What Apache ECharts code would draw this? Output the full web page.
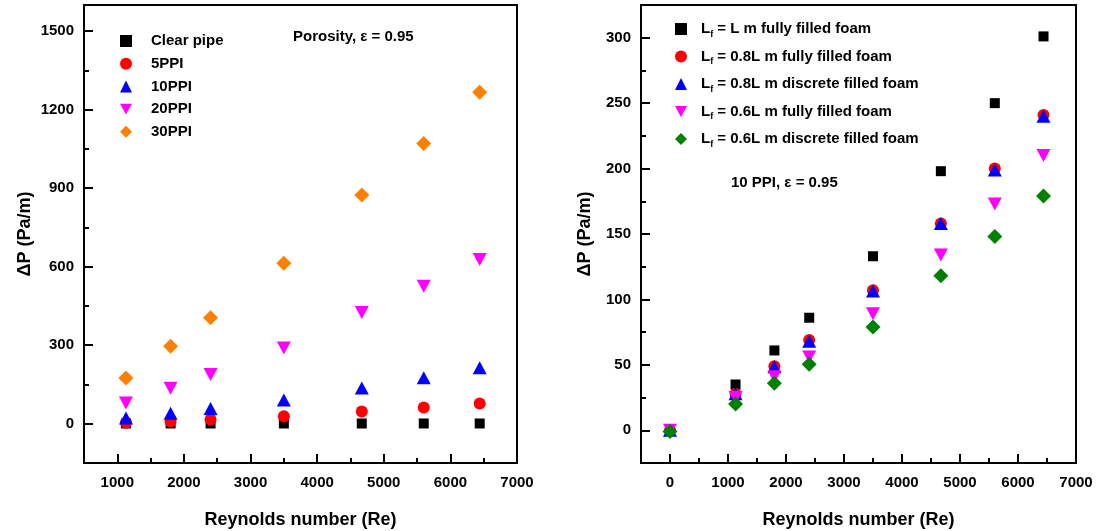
<!DOCTYPE html>
<html>
<head>
<meta charset="utf-8">
<script src="https://cdn.jsdelivr.net/npm/echarts@6/dist/echarts.min.js"></script>
<style>html,body{margin:0;padding:0;background:#fff}#c{width:1097px;height:531px}</style>
</head>
<body>
<div id="c"></div>
<script>
// ---- Left panel data ----
const reLeft = [1130, 1800, 2400, 3500, 4670, 5600, 6440];
const leftNames = ['Clear pipe', '5PPI', '10PPI', '20PPI', '30PPI'];
const clearPipe = [1, 1, 1, 1, 1, 1, 1];
const ppi5 = [4, 9, 16, 29, 47, 62, 77];
const ppi10 = [22, 40, 58, 91, 137, 176, 214];
const ppi20 = [79, 136, 188, 289, 425, 525, 628];
const ppi30 = [175, 296, 405, 613, 874, 1071, 1267];

// ---- Right panel data ----
const reRight = [0, 1130, 1800, 2400, 3500, 4670, 5600, 6440];
const rightNames = [
  'Lf = L m fully filled foam',
  'Lf = 0.8L m fully filled foam',
  'Lf = 0.8L m discrete filled foam',
  'Lf = 0.6L m fully filled foam',
  'Lf = 0.6L m discrete filled foam'
];
const lfFull = [0, 35, 61, 86, 133, 198, 250, 301];
const lf08Full = [0, 28, 49, 69, 107, 158, 200, 241];
const lf08Disc = [0, 28, 48.5, 68, 106.5, 158, 199, 240];
const lf06Full = [0, 25, 41, 56, 89, 134, 173, 210];
const lf06Disc = [-1, 20, 36, 50.5, 79, 118, 148, 179];

// tick labels
const leftXMajor = [1000, 2000, 3000, 4000, 5000, 6000, 7000];
const leftXMinor = [500, 1500, 2500, 3500, 4500, 5500, 6500];
const leftYMajor = [0, 300, 600, 900, 1200, 1500];
const leftYMinor = [-150, 150, 450, 750, 1050, 1350];
const rightXMajor = [0, 1000, 2000, 3000, 4000, 5000, 6000, 7000];
const rightXMinor = [-500, 500, 1500, 2500, 3500, 4500, 5500, 6500];
const rightYMajor = [0, 50, 100, 150, 200, 250, 300];
const rightYMinor = [-25, 25, 75, 125, 175, 225, 275];

const FONT = '"Liberation Sans", Arial, sans-serif';
const labelStyle = { fontFamily: FONT, fontWeight: 'bold', fontSize: 15, color: '#000' };

const zip = (xs, ys) => xs.map((x, i) => [x, ys[i]]);
const downTri = 'path://M0,0 L10,0 L5,9 Z';

function axisPair(gridIndex, min, max, major, minor, isX, name, nameGap) {
  const main = {
    type: 'value', gridIndex, min, max,
    position: isX ? 'bottom' : 'left',
    name, nameLocation: 'middle', nameGap,
    nameTextStyle: { fontFamily: FONT, fontWeight: 'bold', fontSize: 18, color: '#000' },
    splitLine: { show: false },
    axisLine: { show: true, onZero: false, lineStyle: { color: '#000', width: 2 } },
    axisTick: { show: true, inside: true, length: 9, customValues: major, lineStyle: { color: '#000', width: 2 } },
    axisLabel: Object.assign({ customValues: major, margin: isX ? 12 : 10, showMinLabel: true, showMaxLabel: true,
      formatter: v => String(v) }, labelStyle)
  };
  const sub = {
    type: 'value', gridIndex, min, max,
    position: isX ? 'bottom' : 'left',
    splitLine: { show: false },
    axisLine: { show: false, onZero: false },
    axisTick: { show: true, inside: true, length: 5, customValues: minor, lineStyle: { color: '#000', width: 2 } },
    axisLabel: { show: false }
  };
  return [main, sub];
}

const chart = echarts.init(document.getElementById('c'), null, { renderer: 'canvas' });

const xAxes = [
  ...axisPair(0, 500, 7000, leftXMajor, leftXMinor, true, 'Reynolds number (Re)', 48),
  ...axisPair(1, -500, 7000, rightXMajor, rightXMinor, true, 'Reynolds number (Re)', 48)
];
const yAxes = [
  ...axisPair(0, -150, 1600, leftYMajor, leftYMinor, false, 'ΔP (Pa/m)', 50),
  ...axisPair(1, -25, 325, rightYMajor, rightYMinor, false, 'ΔP (Pa/m)', 47)
];

const leftSeries = [
  { name: leftNames[0], data: zip(reLeft, clearPipe), symbol: 'rect', symbolSize: 10, color: '#000000' },
  { name: leftNames[1], data: zip(reLeft, ppi5), symbol: 'circle', symbolSize: 12, color: '#ff0000' },
  { name: leftNames[2], data: zip(reLeft, ppi10), symbol: 'triangle', symbolSize: [14, 13], color: '#0000ff' },
  { name: leftNames[3], data: zip(reLeft, ppi20), symbol: downTri, symbolSize: [14, 13], color: '#ff00ff' },
  { name: leftNames[4], data: zip(reLeft, ppi30), symbol: 'diamond', symbolSize: [15, 15], color: '#ff8000' }
].map(s => Object.assign({ type: 'scatter', xAxisIndex: 0, yAxisIndex: 0, itemStyle: { color: s.color, opacity: 1 } }, s));

const rightSeries = [
  { name: rightNames[0], data: zip(reRight, lfFull), symbol: 'rect', symbolSize: 10, color: '#000000' },
  { name: rightNames[1], data: zip(reRight, lf08Full), symbol: 'circle', symbolSize: 12, color: '#ff0000' },
  { name: rightNames[2], data: zip(reRight, lf08Disc), symbol: 'triangle', symbolSize: [14, 13], color: '#0000ff' },
  { name: rightNames[3], data: zip(reRight, lf06Full), symbol: downTri, symbolSize: [14, 13], color: '#ff00ff' },
  { name: rightNames[4], data: zip(reRight, lf06Disc), symbol: 'diamond', symbolSize: [15, 15], color: '#008000' }
].map(s => Object.assign({ type: 'scatter', xAxisIndex: 2, yAxisIndex: 2, itemStyle: { color: s.color, opacity: 1 } }, s));

chart.setOption({
  animation: false,
  backgroundColor: '#fff',
  grid: [
    { left: 84, right: 580, top: 5, bottom: 68, show: true, borderColor: '#000', borderWidth: 2, containLabel: false, outerBoundsMode: 'none' },
    { left: 641, right: 21, top: 5, bottom: 68, show: true, borderColor: '#000', borderWidth: 2, containLabel: false, outerBoundsMode: 'none' }
  ],
  xAxis: xAxes,
  yAxis: yAxes,
  legend: [
    {
      data: leftNames, orient: 'vertical', left: 115, top: 27,
      itemWidth: 12, itemHeight: 12, itemGap: 4.7,
      textStyle: Object.assign({}, labelStyle, { lineHeight: 18, padding: [0, 0, 0, 14] }),
      selectedMode: false
    },
    {
      data: rightNames, orient: 'vertical', left: 670, top: 14,
      itemWidth: 12, itemHeight: 12, itemGap: 7.5,
      formatter: n => n.replace('Lf', 'L{sub|f}'),
      textStyle: Object.assign({}, labelStyle, {
        lineHeight: 20, padding: [0, 0, 0, 9],
        rich: {
          sub: { fontFamily: FONT, fontWeight: 'bold', fontSize: 9, color: '#000', verticalAlign: 'bottom', padding: [8, 0, 0, 0] }
        }
      }),
      selectedMode: false
    }
  ],
  graphic: [
    { type: 'text', left: 293, top: 29, style: { text: 'Porosity, ε = 0.95', font: 'bold 15px ' + FONT, fill: '#000' } },
    { type: 'text', left: 731, top: 175, style: { text: '10 PPI, ε = 0.95', font: 'bold 15px ' + FONT, fill: '#000' } }
  ],
  series: [...leftSeries, ...rightSeries]
});
</script>
</body>
</html>
